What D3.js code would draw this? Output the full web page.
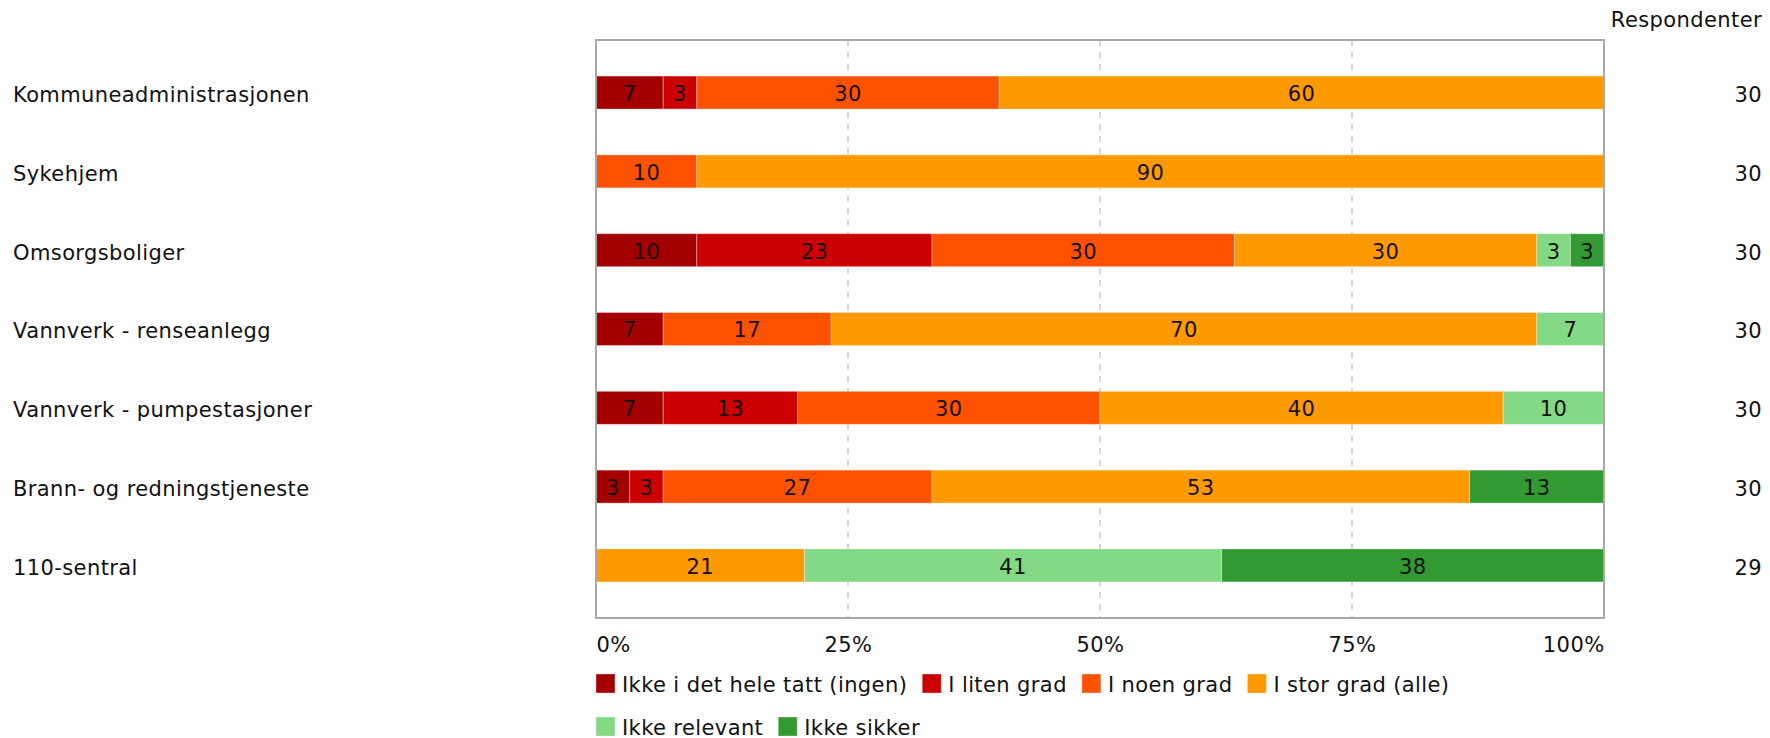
<!DOCTYPE html>
<html><head><meta charset="utf-8">
<script src="https://cdn.jsdelivr.net/npm/d3@7"></script>
<style>body{margin:0;background:#fff}svg{display:block}text{font-family:"DejaVu Sans",Verdana,sans-serif;fill:#111;letter-spacing:0.4px}</style>
</head><body><svg id="c" width="1770" height="738"></svg>
<script>
const categories = ["Kommuneadministrasjonen","Sykehjem","Omsorgsboliger","Vannverk - renseanlegg","Vannverk - pumpestasjoner","Brann- og redningstjeneste","110-sentral"];
const seriesNames = ["Ikke i det hele tatt (ingen)","I liten grad","I noen grad","I stor grad (alle)","Ikke relevant","Ikke sikker"];
const seriesColors = ["#a50000","#cc0000","#ff5200","#ff9900","#84d984","#339933"];
// response counts per category, one array per series (read from the shown percentages)
const ikkeIDetHele = [2,0,3,2,2,1,0];
const iLitenGrad   = [1,0,7,0,4,1,0];
const iNoenGrad    = [9,3,9,5,9,8,0];
const iStorGrad    = [18,27,9,21,12,16,6];
const ikkeRelevant = [0,0,1,2,3,0,12];
const ikkeSikker   = [0,0,1,0,0,4,11];
const respondents  = [30,30,30,30,30,30,29];
const tickValues = [0,25,50,75,100];
const tickLabels = ["0%","25%","50%","75%","100%"];

const seriesData = [ikkeIDetHele,iLitenGrad,iNoenGrad,iStorGrad,ikkeRelevant,ikkeSikker];
const svg = d3.select("#c");
const FS = 21;
const L = 596, R = 1604, T = 40, B = 618;
const x = d3.scaleLinear().domain([0,100]).range([L,R]);
const y = d3.scalePoint().domain(categories).range([T,B]).padding(0.667);
const barH = 33;

// grid
svg.append("g").selectAll("line").data([25,50,75]).join("line")
  .attr("x1",d=>x(d)).attr("x2",d=>x(d)).attr("y1",T).attr("y2",B)
  .attr("stroke","#c8c8c8").attr("stroke-width",1.5).attr("stroke-dasharray","6,6");

// stacked table
const rows = categories.map((c,i)=>{ const o={cat:c}; seriesNames.forEach((s,j)=>o[s]=seriesData[j][i]/respondents[i]*100); return o;});
const stack = d3.stack().keys(seriesNames)(rows);
const g = svg.append("g");
stack.forEach((layer,j)=>{
  layer.forEach((d,i)=>{
    const w = x(d[1])-x(d[0]);
    if (w<=0.01) return;
    g.append("rect").attr("x",x(d[0])).attr("y",y(categories[i])-barH/2)
      .attr("width",w).attr("height",barH).attr("fill",seriesColors[j])
      .attr("stroke","rgba(255,255,255,0.35)").attr("stroke-width",1);
    g.append("text").attr("x",(x(d[0])+x(d[1]))/2).attr("y",y(categories[i]))
      .attr("dy","0.4em").attr("text-anchor","middle").attr("font-size",FS)
      .text(Math.round(seriesData[j][i]/respondents[i]*100));
  });
});

// frame
svg.append("rect").attr("x",L).attr("y",T).attr("width",R-L).attr("height",B-T)
  .attr("fill","none").attr("stroke","#a8a8a8").attr("stroke-width",2);

// category labels
svg.append("g").selectAll("text").data(categories).join("text")
  .attr("x",13).attr("y",d=>y(d)).attr("dy","0.45em").attr("font-size",FS).text(d=>d);

// respondents
svg.append("text").attr("x",1762).attr("y",27).attr("text-anchor","end").attr("font-size",FS).text("Respondenter");
svg.append("g").selectAll("text").data(categories).join("text")
  .attr("x",1762).attr("y",d=>y(d)).attr("dy","0.45em").attr("text-anchor","end").attr("font-size",FS)
  .text((d,i)=>respondents[i]);

// x axis
const ax = d3.axisBottom(x).tickValues(tickValues).tickFormat((d,i)=>tickLabels[i]).tickSize(0).tickPadding(0);
const axg = svg.append("g").attr("transform",`translate(0,${B})`).call(ax);
axg.select(".domain").remove();
axg.selectAll("text").attr("font-size",FS).attr("font-family","DejaVu Sans, Verdana, sans-serif").attr("fill","#111")
  .attr("y",34).attr("dy",0)
  .attr("text-anchor",(d,i)=> i===0?"start":(i===tickValues.length-1?"end":"middle"));

// legend
const rowsLeg = [[0,1,2,3],[4,5]];
rowsLeg.forEach((idxs,r)=>{
  let cx = L;
  const yy = 674 + r*43;
  idxs.forEach(j=>{
    svg.append("rect").attr("x",cx).attr("y",yy).attr("width",19).attr("height",19).attr("fill",seriesColors[j])
      .attr("stroke","rgba(255,255,255,0.35)");
    const t = svg.append("text").attr("x",cx+26).attr("y",yy+17.5).attr("font-size",FS).text(seriesNames[j]);
    cx = cx+26+t.node().getComputedTextLength()+15;
  });
});
</script></body></html>
